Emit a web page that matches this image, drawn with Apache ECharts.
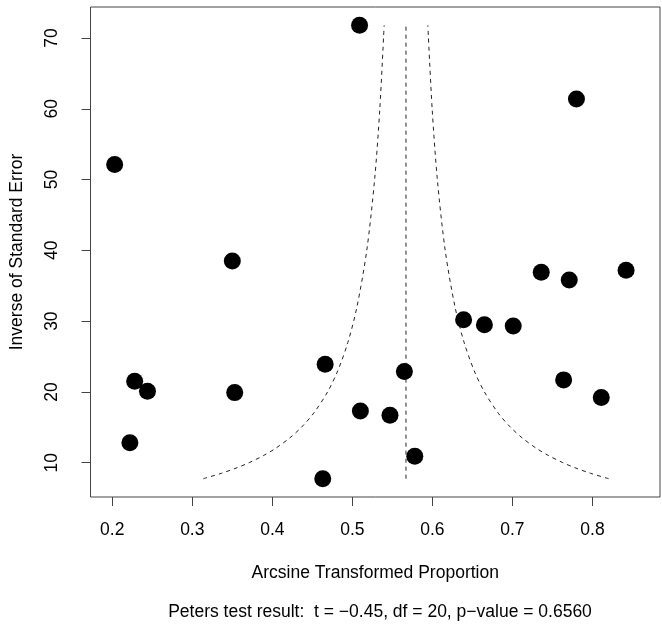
<!DOCTYPE html>
<html>
<head>
<meta charset="utf-8">
<script src="https://cdn.jsdelivr.net/npm/echarts@6/dist/echarts.min.js"></script>
<style>html,body{margin:0;padding:0;background:#fff;}#chart{width:662px;height:626px;}</style>
</head>
<body>
<div id="chart"></div>
<script>
// Study points: arcsine transformed proportion (x) and inverse standard error (y)
const studyX = [0.509, 0.780, 0.203, 0.350, 0.228, 0.244, 0.353, 0.222, 0.466, 0.565, 0.510, 0.547, 0.578, 0.463, 0.639, 0.665, 0.701, 0.736, 0.771, 0.842, 0.764, 0.811];
const studyY = [71.8, 61.4, 52.15, 38.5, 21.5, 20.1, 19.9, 12.8, 23.9, 22.9, 17.3, 16.7, 10.9, 7.74, 30.2, 29.5, 29.3, 36.9, 35.8, 37.2, 21.7, 19.2];

// Pooled estimate (vertical dashed line)
const centerX = [0.567, 0.567];
const centerY = [7.74, 71.8];

// Funnel contour
const funnelY = [7.74, 8.5, 9.3, 10, 11, 12, 13.5, 15, 17, 20, 23, 27, 32, 40, 50, 60, 71.8];
const funnelLeftX = [0.3138, 0.3364, 0.3562, 0.371, 0.3888, 0.4037, 0.4218, 0.4363, 0.4517, 0.469, 0.4818, 0.4944, 0.5057, 0.518, 0.5278, 0.5343, 0.5397];
const funnelRightX = [0.8202, 0.7976, 0.7778, 0.763, 0.7452, 0.7303, 0.7122, 0.6977, 0.6823, 0.665, 0.6522, 0.6396, 0.6283, 0.616, 0.6062, 0.5997, 0.5943];

// Tick labels
const xTicks = [0.2, 0.3, 0.4, 0.5, 0.6, 0.7, 0.8];
const yTicks = [10, 20, 30, 40, 50, 60, 70];

const xTitle = 'Arcsine Transformed Proportion';
const yTitle = 'Inverse of Standard Error';
const footText = 'Peters test result:  t = \u22120.45, df = 20, p\u2212value = 0.6560';

const zip = (a, b) => a.map((v, i) => [v, b[i]]);
const FONT = 'Liberation Sans, Arial, sans-serif';
const FS = 17.5;
const dashLine = { color: '#222', width: 1, type: [4, 4] };

const chart = echarts.init(document.getElementById('chart'), null, { renderer: 'canvas' });
chart.setOption({
  animation: false,
  backgroundColor: '#fff',
  textStyle: { fontFamily: FONT, color: '#000' },
  title: {
    text: footText,
    left: 375, top: 598, textAlign: 'center',
    textStyle: { fontFamily: FONT, fontSize: FS, fontWeight: 'normal', color: '#000' }
  },
  grid: { left: 90, top: 7, width: 570, height: 490, show: true, borderColor: '#444', borderWidth: 1, backgroundColor: 'transparent' },
  xAxis: {
    type: 'value', min: 0.1728, max: 0.8844,
    name: xTitle, nameLocation: 'middle', nameGap: 67,
    nameTextStyle: { fontFamily: FONT, fontSize: FS, color: '#000' },
    axisLine: { show: false },
    splitLine: { show: false },
    axisTick: { show: true, length: 9, customValues: xTicks, lineStyle: { color: '#444' } },
    axisLabel: { customValues: xTicks, margin: 24, fontFamily: FONT, fontSize: FS, color: '#000', formatter: v => String(v) }
  },
  yAxis: {
    type: 'value', min: 5.15, max: 74.39,
    name: yTitle, nameLocation: 'middle', nameGap: 64.5, nameRotate: 90,
    nameTextStyle: { fontFamily: FONT, fontSize: FS, color: '#000' },
    axisLine: { show: false },
    splitLine: { show: false },
    axisTick: { show: true, length: 9, customValues: yTicks, lineStyle: { color: '#444' } },
    axisLabel: { customValues: yTicks, rotate: 90, margin: 29, fontFamily: FONT, fontSize: FS, color: '#000' }
  },
  series: [
    { type: 'line', data: zip(funnelLeftX, funnelY), showSymbol: false, smooth: 0.3, lineStyle: dashLine, silent: true, z: 1 },
    { type: 'line', data: zip(funnelRightX, funnelY), showSymbol: false, smooth: 0.3, lineStyle: dashLine, silent: true, z: 1 },
    { type: 'line', data: zip(centerX, centerY), showSymbol: false, lineStyle: dashLine, silent: true, z: 1 },
    { type: 'scatter', data: zip(studyX, studyY), symbol: 'circle', symbolSize: 17, itemStyle: { color: '#000', opacity: 1 }, z: 2 }
  ]
});
</script>
</body>
</html>
